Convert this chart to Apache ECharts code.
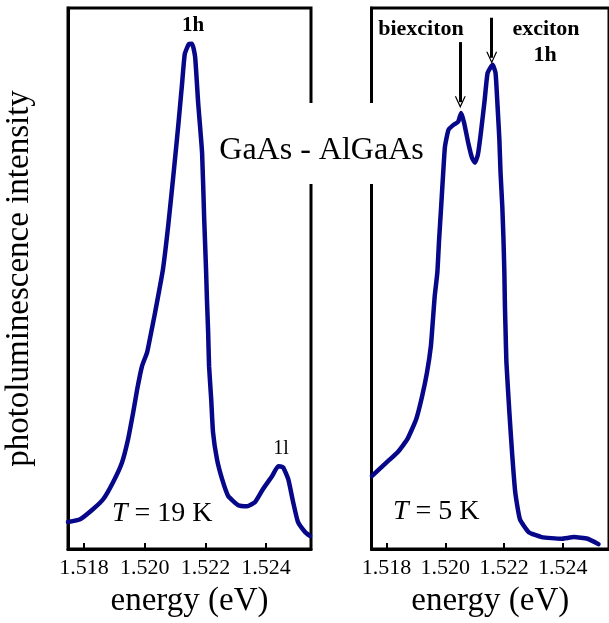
<!DOCTYPE html>
<html>
<head>
<meta charset="utf-8">
<script src="https://cdn.jsdelivr.net/npm/echarts@6/dist/echarts.min.js"></script>
<style>
  html, body { margin: 0; padding: 0; background: #fff; }
  #chart { width: 609px; height: 623px; }
</style>
</head>
<body>
<div id="chart"></div>
<script>
// values (energy in eV, intensity in arbitrary units 0..100)
const tickValues = [1.518, 1.520, 1.522, 1.524];

const leftEnergy = [1.51747, 1.51787, 1.51830, 1.51863, 1.51896, 1.51925, 1.51945, 1.51962, 1.51975, 1.51991,
    1.52008, 1.52021, 1.52034, 1.52060, 1.52077, 1.52093, 1.52110, 1.52123, 1.52132,
    1.52145, 1.52156, 1.52166, 1.52176, 1.52189, 1.52196, 1.52202, 1.52205, 1.52209, 1.52212,
    1.52219, 1.52225, 1.52238, 1.52255, 1.52275, 1.52308, 1.52337, 1.52364, 1.52390, 1.52420,
    1.52440, 1.52456, 1.52473, 1.52489, 1.52505, 1.52529, 1.52545];
const leftIntensity = [5.0, 5.5, 7.4, 9.2, 12.4, 16.0, 20.3, 25.3, 29.5, 33.8,
    36.4, 40.0, 43.7, 51.7, 59.6, 68.3, 78.0, 86.0, 91.5,
    93.3, 93.4, 91.0, 82.5, 73.2, 60.9, 51.7, 46.1, 40.0, 33.8,
    27.7, 21.6, 16.6, 12.9, 9.8, 8.1, 7.9, 8.7, 11.1, 13.5,
    15.3, 15.1, 12.9, 8.7, 5.0, 3.1, 2.4];

const rightEnergy = [1.51751, 1.51794, 1.51838, 1.51871, 1.51901, 1.51921, 1.51938, 1.51951, 1.51958, 1.51964,
    1.51973, 1.51979, 1.51986, 1.51993, 1.51999, 1.52011, 1.52028, 1.52044, 1.52054, 1.52064,
    1.52078, 1.52091, 1.52101, 1.52111, 1.52121, 1.52134, 1.52144, 1.52161, 1.52171, 1.52178,
    1.52184, 1.52188, 1.52194, 1.52198, 1.52201, 1.52203, 1.52205, 1.52208, 1.52218, 1.52228,
    1.52238, 1.52254, 1.52284, 1.52328, 1.52394, 1.52438, 1.52484, 1.52521];
const rightIntensity = [13.5, 15.7, 17.9, 20.3, 24.0, 28.2, 32.7, 37.5, 42.4, 46.7,
    51.1, 57.2, 63.3, 69.6, 74.4, 77.5, 78.4, 79.0, 80.6, 78.8,
    75.1, 72.3, 71.4, 72.9, 76.9, 83.0, 88.0, 89.5, 88.0, 81.7,
    75.7, 69.6, 63.3, 57.2, 51.1, 44.8, 40.6, 34.5, 25.3, 17.2,
    10.5, 5.5, 3.1, 2.2, 1.9, 2.2, 1.9, 0.9];

const serif = 'Liberation Serif';
const lineColor = '#07078a';

const zip = (xs, ys) => xs.map((x, i) => [x, ys[i]]);

let chart = echarts.init(document.getElementById('chart'));

function xAxisFor(gridIndex, min, max) {
    return {
        type: 'value',
        gridIndex: gridIndex,
        min: min,
        max: max,
        splitLine: { show: false },
        axisLine: { show: true, lineStyle: { color: '#000', width: 3 } },
        axisTick: {
            show: true, inside: true, length: 6, customValues: tickValues,
            lineStyle: { color: '#000', width: 2 }
        },
        axisLabel: {
            show: true, customValues: tickValues, margin: 8,
            color: '#000', fontFamily: serif, fontSize: 22,
            formatter: v => v.toFixed(3)
        },
        name: 'energy (eV)',
        nameLocation: 'middle',
        nameGap: 36,
        nameTextStyle: { color: '#000', fontFamily: serif, fontSize: 33 }
    };
}

function yAxisFor(gridIndex, withName) {
    return {
        type: 'value',
        gridIndex: gridIndex,
        min: 0,
        max: 100,
        splitLine: { show: false },
        axisLine: { show: true, lineStyle: { color: '#000', width: 3 } },
        axisTick: { show: false },
        axisLabel: { show: false },
        name: withName ? 'photoluminescence intensity' : '',
        nameLocation: 'middle',
        nameRotate: 90,
        nameGap: 32,
        nameTextStyle: { color: '#000', fontFamily: serif, fontSize: 33 }
    };
}

// thin open arrow head, tip pointing up
const arrowHead = 'path://M5,0 L10,11 L8.8,11 L5,2.6 L1.2,11 L0,11 Z';

const lineSeries = (idx, data) => ({
    type: 'line',
    xAxisIndex: idx,
    yAxisIndex: idx,
    data: data,
    showSymbol: false,
    smooth: 0.15,
    lineStyle: { color: lineColor, width: 4.5, cap: 'round', join: 'round' }
});

let rightSeries = lineSeries(1, zip(rightEnergy, rightIntensity));
rightSeries.markLine = {
    silent: true,
    animation: false,
    symbol: ['none', arrowHead],
    symbolSize: [11, 12],
    label: { show: false },
    lineStyle: { color: '#000', width: 3, type: 'solid' },
    data: [
        [{ coord: [1.52051, 93.7] }, { coord: [1.52051, 82.6] }],
        [{ coord: [1.52158, 98.2] }, { coord: [1.52158, 90.8] }]
    ]
};

const option = {
    animation: false,
    backgroundColor: '#fff',
    grid: [
        { left: 68, right: 298, top: 8, bottom: 73, show: true, borderColor: '#000', borderWidth: 3 },
        { left: 371.5, right: -5, top: 8, bottom: 73, show: true, borderColor: '#000', borderWidth: 3 }
    ],
    xAxis: [xAxisFor(0, 1.51747, 1.52548), xAxisFor(1, 1.51749, 1.52557)],
    yAxis: [yAxisFor(0, true), yAxisFor(1, false)],
    series: [lineSeries(0, zip(leftEnergy, leftIntensity)), rightSeries],
    graphic: [
        { type: 'rect', z: 50, shape: { x: 213, y: 103, width: 227, height: 81 }, style: { fill: '#fff' } },
        {
            type: 'text', z: 51, x: 321.5, y: 151,
            style: { text: 'GaAs - AlGaAs', fill: '#000', font: '32px "Liberation Serif"', align: 'center', verticalAlign: 'middle' }
        },
        {
            type: 'text', z: 51, x: 193, y: 26,
            style: { text: '1h', fill: '#000', font: 'bold 21px "Liberation Serif"', align: 'center', verticalAlign: 'middle' }
        },
        {
            type: 'text', z: 51, x: 281, y: 449,
            style: { text: '1l', fill: '#000', font: '20px "Liberation Serif"', align: 'center', verticalAlign: 'middle' }
        },
        {
            type: 'text', z: 51, x: 421, y: 29,
            style: { text: 'biexciton', fill: '#000', font: 'bold 22px "Liberation Serif"', align: 'center', verticalAlign: 'middle' }
        },
        {
            type: 'text', z: 51, x: 546, y: 29,
            style: { text: 'exciton', fill: '#000', font: 'bold 22px "Liberation Serif"', align: 'center', verticalAlign: 'middle' }
        },
        {
            type: 'text', z: 51, x: 545, y: 55,
            style: { text: '1h', fill: '#000', font: 'bold 22px "Liberation Serif"', align: 'center', verticalAlign: 'middle' }
        },
        {
            type: 'text', z: 51, x: 112, y: 514,
            style: {
                text: '{i|T} = 19 K', fill: '#000', font: '28px "Liberation Serif"', verticalAlign: 'middle',
                rich: { i: { fontStyle: 'italic', fontFamily: serif, fontSize: 28 } }
            }
        },
        {
            type: 'text', z: 51, x: 393, y: 512,
            style: {
                text: '{i|T} = 5 K', fill: '#000', font: '28px "Liberation Serif"', verticalAlign: 'middle',
                rich: { i: { fontStyle: 'italic', fontFamily: serif, fontSize: 28 } }
            }
        }
    ]
};

chart.setOption(option);
</script>
</body>
</html>
